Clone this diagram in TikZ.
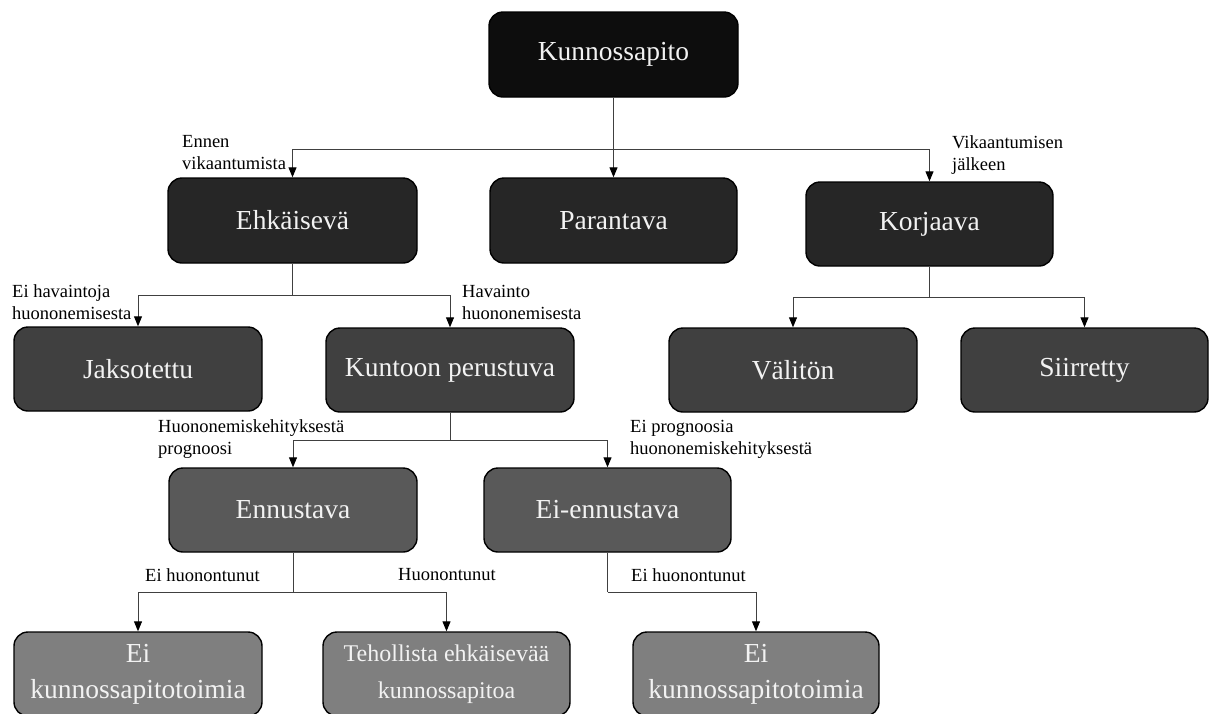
\documentclass[tikz,border=0pt]{standalone}
\usepackage{fontspec}
\setmainfont{Liberation Serif}
\usetikzlibrary{arrows.meta}
\definecolor{c0}{HTML}{0D0D0D}
\definecolor{c1}{HTML}{262626}
\definecolor{c2}{HTML}{404040}
\definecolor{c3}{HTML}{595959}
\definecolor{c4}{HTML}{7F7F7F}
\definecolor{txt}{HTML}{F2F2F2}
\begin{document}
\begin{tikzpicture}[x=1pt,y=-1pt,
  box/.style={draw=black,line width=1.4pt,rounded corners=14pt,text=txt,
    inner sep=0pt,minimum width=248pt,minimum height=84pt,align=center,
    font=\fontsize{27.5}{36}\selectfont},
  lbl/.style={inner sep=0pt,anchor=west,align=left,text=black,
    font=\fontsize{18.5}{22}\selectfont},
  conn/.style={draw=black!75,line width=1pt},
  arr/.style={conn,-{Triangle[width=8pt,length=10pt,fill=black,color=black]}}]
\useasboundingbox (0,0) rectangle (1214,713);
\begin{scope}
\clip (0,0) rectangle (1214,713);
% nodes
\node[box,fill=c0,minimum width=249pt,minimum height=85pt] (kun) at (613.5,54.5) {Kunnossapito};
\node[box,fill=c1,minimum width=249pt,minimum height=85pt] (ehk) at (292.5,220.5) {Ehkäisevä};
\node[box,fill=c1,minimum width=247pt,minimum height=85pt] (par) at (613.5,220.5) {Parantava};
\node[box,fill=c1,minimum width=247pt] (kor) at (929.5,224) {Korjaava};
\node[box,fill=c2] (jak) at (138,369) {Jaksotettu};
\node[box,fill=c2] (kt) at (450,370) {Kuntoon perustuva};
\node[box,fill=c2] (val) at (793,370) {Välitön};
\node[box,fill=c2,minimum width=247pt] (sii) at (1084.5,370) {Siirretty};
\node[box,fill=c3] (enn) at (293,510) {Ennustava};
\node[box,fill=c3,minimum width=247pt] (ein) at (607.5,510) {Ei-ennustava};
\node[box,fill=c4] (b1) at (138,674) {Ei\\kunnossapitotoimia};
\node[box,fill=c4,minimum width=247pt,font=\fontsize{24}{37}\selectfont] (b2) at (446.5,674) {Tehollista ehkäisevää\\kunnossapitoa};
\node[box,fill=c4,minimum width=246pt] (b3) at (756,674) {Ei\\kunnossapitotoimia};
% junctions
\coordinate (j1) at (613.5,149);
\coordinate (j2) at (292.5,295);
\coordinate (j3) at (450,440);
\coordinate (j4) at (293,592);
\coordinate (j5) at (607.5,592);
\coordinate (j6) at (929.5,297);
% connectors
\draw[arr] (kun.south) -- (par.north);
\draw[arr] (j1) -| (ehk.north);
\draw[arr] (j1) -| (kor.north);
\draw[conn] (ehk.south) -- (j2);
\draw[arr] (j2) -| (jak.north);
\draw[arr] (j2) -| (kt.north);
\draw[conn] (kt.south) -- (j3);
\draw[arr] (j3) -| (enn.north);
\draw[arr] (j3) -| (ein.north);
\draw[conn] (enn.south) -- (j4);
\draw[conn] (ein.south) -- (j5);
\draw[arr] (j4) -| (b1.north);
\draw[arr] (j4) -| (b2.north);
\draw[arr] (j5) -| (b3.north);
\draw[conn] (kor.south) -- (j6);
\draw[arr] (j6) -| (val.north);
\draw[arr] (j6) -| (sii.north);
% labels
\node[lbl] (l1) at (182,153) {Ennen\\vikaantumista};
\node[lbl] (l2) at (952,155) {Vikaantumisen\\jälkeen};
\node[lbl] (l3) at (12,302) {Ei havaintoja\\huononemisesta};
\node[lbl] (l4) at (462,302) {Havainto\\huononemisesta};
\node[lbl] (l5) at (158,439) {Huononemiskehityksestä\\prognoosi};
\node[lbl] (l6) at (630,439) {Ei prognoosia\\huononemiskehityksestä};
\node[lbl] (l7) at (145,575) {Ei huonontunut};
\node[lbl] (l8) at (398,575) {Huonontunut};
\node[lbl] (l9) at (631,575) {Ei huonontunut};
\end{scope}
\end{tikzpicture}
\end{document}
